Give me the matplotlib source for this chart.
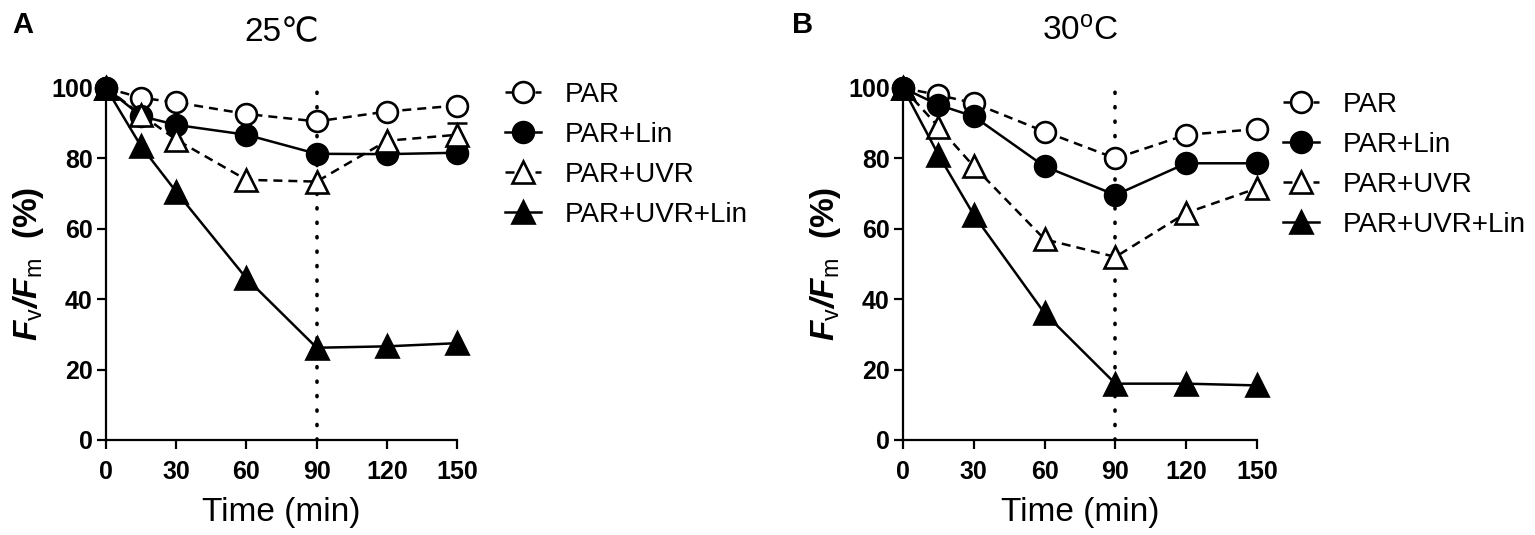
import numpy as np
import matplotlib
matplotlib.use('Agg')
import matplotlib.pyplot as plt

plt.rcParams['font.family'] = ['Liberation Sans', 'DejaVu Sans']
plt.rcParams['mathtext.fontset'] = 'custom'
plt.rcParams['mathtext.rm'] = 'Liberation Sans'
plt.rcParams['mathtext.it'] = 'Liberation Sans:italic'
plt.rcParams['mathtext.bf'] = 'Liberation Sans:bold'
plt.rcParams['mathtext.bfit'] = 'Liberation Sans:italic:bold'

# data (Fv/Fm in % of initial)
time = [0, 15, 30, 60, 90, 120, 150]
labels = ['PAR', 'PAR+Lin', 'PAR+UVR', 'PAR+UVR+Lin']

a_par = [100, 97.2, 95.9, 92.6, 90.5, 93.3, 95.0]
a_par_lin = [100, 92.0, 89.5, 86.7, 81.3, 81.2, 81.6]
a_par_uvr = [100, 92.4, 85.3, 73.9, 73.4, 85.0, 86.7]
a_par_uvr_lin = [100, 83.4, 70.5, 45.9, 26.2, 26.6, 27.5]

b_par = [100, 98.0, 95.7, 87.6, 80.0, 86.7, 88.3]
b_par_lin = [100, 95.2, 91.9, 77.7, 69.6, 78.6, 78.6]
b_par_uvr = [100, 89.0, 77.7, 57.0, 52.0, 64.5, 71.5]
b_par_uvr_lin = [100, 81.0, 63.9, 36.0, 16.0, 16.0, 15.5]

# the only error bar that shows above its marker
a_uvr_err_idx = 6
a_uvr_err = 3.4

mark_time = 90
xticks = [0, 30, 60, 90, 120, 150]
yticks = [0, 20, 40, 60, 80, 100]

# style per series: marker, face colour, dashed?
styles = [('o', 'white', True), ('o', 'black', False),
          ('^', 'white', True), ('^', 'black', False)]

fig = plt.figure(figsize=(15.35, 5.35), dpi=100)
axA = fig.add_axes([0.0691, 0.1776, 0.2287, 0.658])
axB = fig.add_axes([0.5883, 0.1776, 0.2306, 0.658])


def draw_panel(ax, series, title, leg_anchor):
    handles = []
    for vals, (mk, fc, dashed), lab in zip(series, styles, labels):
        ms = 15 if mk == 'o' else 16
        ln, = ax.plot(time, vals, marker=mk, ms=ms, mfc=fc, mec='black', mew=1.9,
                      color='black', lw=1.8, clip_on=False, label=lab)
        if dashed:
            ln.set_dashes((3.6, 2.4))
        handles.append(ln)
    ax.axvline(mark_time, color='black', lw=2.6, dashes=(0.3, 3.7),
               dash_capstyle='round', zorder=0.5)
    ax.set_xlim(0, 150)
    ax.set_ylim(0, 100)
    ax.set_xticks(xticks)
    ax.set_yticks(yticks)
    for s in ['top', 'right']:
        ax.spines[s].set_visible(False)
    for s in ['left', 'bottom']:
        ax.spines[s].set_linewidth(1.6)
    ax.tick_params(width=1.6, length=6.5, labelsize=18, direction='out')
    ax.tick_params(axis='x', pad=8)
    ax.tick_params(axis='y', pad=3)
    for t in ax.get_xticklabels() + ax.get_yticklabels():
        t.set_fontweight('bold')
    ax.set_xlabel('Time (min)', fontsize=24, labelpad=9)
    ax.set_ylabel(r'$\mathbfit{F}_{\mathrm{v}}\mathbfit{/}\mathbfit{F}_{\mathrm{m}}$  (%)',
                  fontsize=24, fontweight='bold', labelpad=4)
    ax.set_title(title, fontsize=24, pad=34)
    fig.legend(handles=handles, loc='upper left', bbox_to_anchor=leg_anchor,
               frameon=False, fontsize=20, handlelength=1.3, handletextpad=0.85,
               labelspacing=0.5, borderaxespad=0, borderpad=0)


draw_panel(axA, [a_par, a_par_lin, a_par_uvr, a_par_uvr_lin], '25\u2103',
           (505 / 1535, 1 - 82 / 535))
draw_panel(axB, [b_par, b_par_lin, b_par_uvr, b_par_uvr_lin], r'30$^{\mathrm{o}}$C',
           (1283 / 1535, 1 - 92 / 535))

axA.errorbar(time[a_uvr_err_idx], a_par_uvr[a_uvr_err_idx], yerr=a_uvr_err,
             fmt='none', ecolor='black', elinewidth=1.8, capsize=7, capthick=1.8,
             zorder=1.5, clip_on=False)

fig.text(12 / 1535, 1 - 33 / 535, 'A', fontsize=21, fontweight='bold')
fig.text(792 / 1535, 1 - 33 / 535, 'B', fontsize=21, fontweight='bold')

fig.savefig('out.png', dpi=100)
